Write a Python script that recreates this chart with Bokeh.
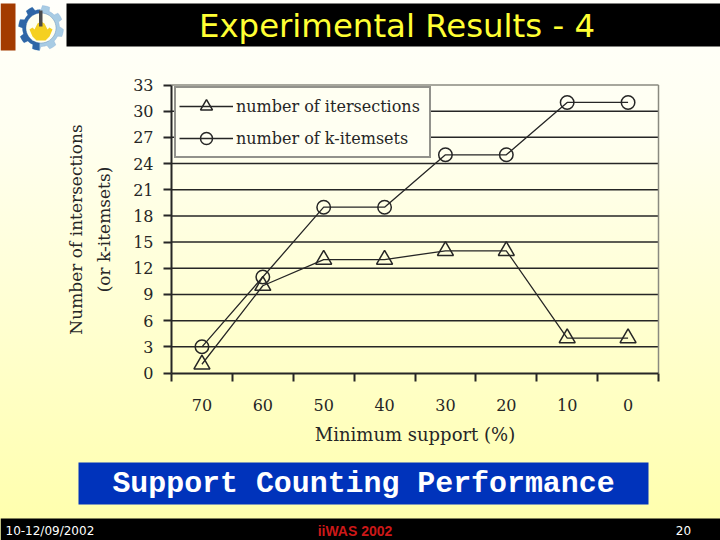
import numpy as np
from bokeh.plotting import figure
from bokeh.models import (Range1d, LinearAxis, FixedTicker, BoxAnnotation,
                          Label, Legend, LegendItem, PolyAnnotation, ColumnDataSource)
from bokeh.embed import file_html
from bokeh.resources import INLINE

support_levels = ["70", "60", "50", "40", "30", "20", "10", "0"]
intersections = [1, 10, 13, 13, 14, 14, 4, 4]
k_itemsets = [3, 11, 19, 19, 25, 25, 31, 31]
y_ticks = [0, 3, 6, 9, 12, 15, 18, 21, 24, 27, 30, 33]

W, H = 720, 540
FONT = "DejaVu Serif"
INK = "#262626"

# The frame fills the whole slide; the chart area is placed by choosing the ranges.
PLOT_L, PLOT_R, PLOT_T, PLOT_B = 171, 658, 84.5, 372.5
n = len(support_levels)
px_x = (PLOT_R - PLOT_L) / n
px_y = (PLOT_B - PLOT_T) / 33

p = figure(width=W, height=H, output_backend="svg", toolbar_location=None,
           x_range=Range1d(-PLOT_L / px_x, (W - PLOT_L) / px_x),
           y_range=Range1d(-(H - PLOT_B) / px_y, PLOT_B / px_y),
           x_axis_location=None, y_axis_location=None, min_border=0)
p.styles = {"background": "linear-gradient(180deg,#fffffb 0%,#fffff0 25%,#ffffd0 60%,#ffffaa 100%)"}
p.background_fill_color = None
p.border_fill_color = None
p.outline_line_color = None
p.grid.visible = False

def box(l, r, t, b, color):
    p.add_layout(BoxAnnotation(left=l, right=r, top=H - t, bottom=H - b,
                               left_units="screen", right_units="screen", top_units="screen", bottom_units="screen",
                               fill_color=color, fill_alpha=1, line_color=None, level="underlay"))

def poly(xs, ys, fill, line=None):
    p.add_layout(PolyAnnotation(xs=list(xs), ys=list(H - np.asarray(ys)), xs_units="screen", ys_units="screen",
                                fill_color=fill, fill_alpha=1, line_color=line, level="underlay"))

def text(x, y, s, size, color, font="DejaVu Sans", align="left", style="normal"):
    p.add_layout(Label(x=x, y=H - y, x_units="screen", y_units="screen", text=s, text_font=font,
                       text_font_size=f"{size}px", text_color=color, text_align=align,
                       text_baseline="middle", text_font_style=style))

# slide furniture
box(0, 15, 3, 50, "#a33b00")
box(66, 720, 3, 46, "#000000")
box(78, 648, 462, 504, "#0033bb")
box(0, 720, 518, 540, "#000000")

# axes
centres = [i + 0.5 for i in range(n)]
x_axis = LinearAxis(fixed_location=0, bounds=(0, n),
                    ticker=FixedTicker(ticks=centres, minor_ticks=list(range(n + 1))),
                    major_label_overrides={c: s for c, s in zip(centres, support_levels)},
                    major_tick_line_color=None, major_tick_in=0, major_tick_out=0,
                    minor_tick_in=0, minor_tick_out=8, minor_tick_line_color=INK, minor_tick_line_width=2,
                    axis_line_color=INK, axis_line_width=2,
                    major_label_text_font=FONT, major_label_text_font_size="16px",
                    major_label_text_color=INK, major_label_standoff=18,
                    axis_label="Minimum support (%)", axis_label_text_font=FONT,
                    axis_label_text_font_size="18px", axis_label_text_font_style="normal",
                    axis_label_text_color=INK, axis_label_standoff=9)
p.add_layout(x_axis, "below")
y_axis = LinearAxis(fixed_location=0, bounds=(0, 33), ticker=FixedTicker(ticks=y_ticks),
                    major_tick_in=0, major_tick_out=8,
                    minor_tick_line_color=None, axis_line_color=INK, axis_line_width=2,
                    major_tick_line_color=INK, major_tick_line_width=2,
                    major_label_text_font=FONT, major_label_text_font_size="16px",
                    major_label_text_color=INK, major_label_standoff=10,
                    axis_label="Number of intersections\n(or k-itemsets)", axis_label_text_font=FONT,
                    axis_label_text_font_size="17px", axis_label_text_font_style="normal",
                    axis_label_text_color=INK, axis_label_standoff=16, axis_label_text_line_height=1.4)
p.add_layout(y_axis, "left")

# horizontal rules and right edge
rules = y_ticks[1:-1]
p.segment(x0=[0] * len(rules), y0=rules, x1=[n] * len(rules), y1=rules, line_color=INK, line_width=1.5, level="underlay")
p.segment(x0=[0, n], y0=[33, 0], x1=[n, n], y1=[33, 33], line_color="#8a8a80", line_width=1.5, level="underlay")

# data
src = ColumnDataSource(dict(x=centres, a=intersections, b=k_itemsets))
l1 = p.line("x", "a", source=src, line_color=INK, line_width=1.3)
m1 = p.scatter("x", "a", source=src, marker="triangle", size=16, fill_color=None, line_color=INK, line_width=1.5)
l2 = p.line("x", "b", source=src, line_color=INK, line_width=1.3)
m2 = p.scatter("x", "b", source=src, marker="circle", size=13.5, fill_color=None, line_color=INK, line_width=1.5)

legend = Legend(items=[LegendItem(label="number of itersections", renderers=[l1, m1]),
                       LegendItem(label="number of k-itemsets", renderers=[l2, m2])],
                location=(174, H - 158), orientation="vertical", label_text_font=FONT, label_text_font_size="16px",
                label_text_color=INK, glyph_width=54, glyph_height=30, spacing=2, label_standoff=3, label_width=190,
                background_fill_color="#fffff2", background_fill_alpha=1,
                border_line_color=INK, border_line_width=2, margin=0, padding=3)
p.add_layout(legend)

# logo
cx, cy = 40.5, 27.5
ang = np.linspace(0, 2 * np.pi, 97)[:-1]
gear_r = 20.5 + 2 * np.sign(np.sin(ang * 8))
poly(cx + gear_r * np.cos(ang), cy + gear_r * np.sin(ang), "#a8cce4", "#6f9fd0")
left = (ang > np.pi / 2) & (ang < 3 * np.pi / 2)
poly(cx + gear_r[left] * np.cos(ang[left]), cy + gear_r[left] * np.sin(ang[left]), "#2f66a6")
ring = np.linspace(0, 2 * np.pi, 41)[:-1]
poly(cx + 15 * np.cos(ring), cy + 15 * np.sin(ring), "#fffff0", "#2f5f9f")
poly([29, 32, 34, 37, 40.5, 44, 47, 49, 52, 49, 45, 36, 32],
     [29, 27, 29, 23, 21, 23, 29, 27, 29, 36, 40, 40, 36], "#f5d020")
box(38.5, 42, 10, 26, "#4a4a4a")

# slide texts
text(396.5, 25, "Experimental Results - 4", 32.4, "#ffff33", align="center")
text(363, 483, "Support Counting Performance", 29.9, "#ffffff", font="Liberation Mono", align="center", style="bold")
text(5, 530, "10-12/09/2002", 12, "#ffffff")
text(354.5, 530, "iiWAS 2002", 14, "#cc1818", font="Liberation Sans", align="center", style="bold")
text(683, 530, "20", 12, "#ffffff", align="center")

open("out.html", "w").write(file_html(p, INLINE))
